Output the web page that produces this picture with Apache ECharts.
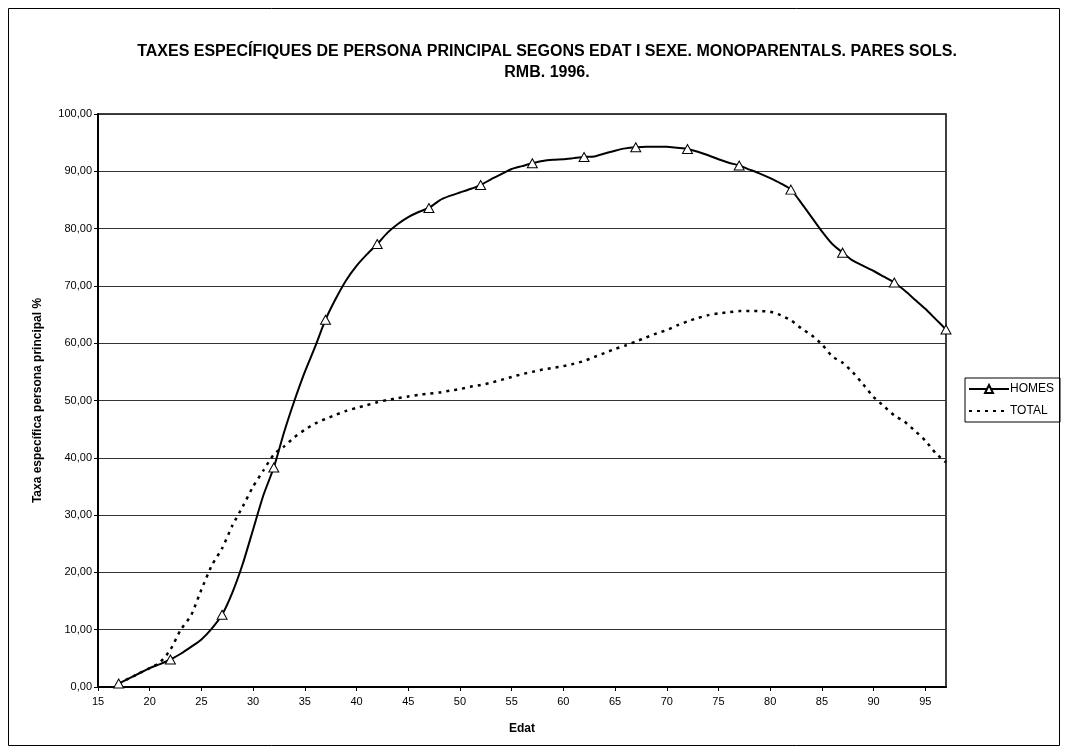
<!DOCTYPE html>
<html>
<head>
<meta charset="utf-8">
<script src="https://cdn.jsdelivr.net/npm/echarts@6/dist/echarts.min.js"></script>
<style>
html,body{margin:0;padding:0;background:#fff;}
#chart{width:1068px;height:755px;}
</style>
</head>
<body>
<div id="chart"></div>
<script>
const ages = [17,18,19,20,21,22,23,24,25,26,27,28,29,30,31,32,33,34,35,36,37,38,39,40,41,42,43,44,45,46,47,48,49,50,51,52,53,54,55,56,57,58,59,60,61,62,63,64,65,66,67,68,69,70,71,72,73,74,75,76,77,78,79,80,81,82,83,84,85,86,87,88,89,90,91,92,93,94,95,96,97];
const homes = [0.6,1.5,2.4,3.3,4.0,4.8,5.8,7.0,8.3,10.2,12.6,16.5,21.5,27.5,33.5,38.3,44.5,50.0,55.0,59.4,64.1,67.8,71.0,73.5,75.5,77.3,79.3,80.8,82.0,82.9,83.6,84.9,85.7,86.3,86.9,87.6,88.6,89.5,90.4,90.9,91.4,91.8,92.0,92.1,92.3,92.5,92.6,93.1,93.6,94.0,94.2,94.3,94.3,94.3,94.1,93.9,93.4,92.8,92.1,91.5,91.0,90.3,89.6,88.8,87.9,86.8,84.5,82.0,79.5,77.3,75.8,74.4,73.5,72.6,71.6,70.6,69.2,67.6,66.0,64.2,62.4];
const total = [0.6,1.5,2.4,3.3,4.3,6.5,10.0,12.5,17.0,21.2,24.2,28.2,31.5,35.0,37.8,40.6,42.0,43.6,44.9,46.0,46.8,47.5,48.2,48.7,49.2,49.7,50.1,50.4,50.7,51.0,51.2,51.4,51.7,52.0,52.4,52.7,53.1,53.6,54.1,54.6,55.0,55.4,55.7,56.0,56.4,56.9,57.6,58.3,59.0,59.6,60.3,61.0,61.7,62.3,63.1,63.8,64.4,64.9,65.2,65.4,65.6,65.6,65.6,65.5,64.9,64.0,62.6,61.4,59.8,57.7,56.6,54.9,52.8,50.6,49.0,47.4,46.3,44.7,43.0,40.8,39.2];
const markerAges = [17,22,27,32,37,42,47,52,57,62,67,72,77,82,87,92,97];
const seriesNames = ['HOMES','TOTAL'];
const titleText = 'TAXES ESPECÍFIQUES DE PERSONA PRINCIPAL SEGONS EDAT I SEXE. MONOPARENTALS. PARES SOLS.\nRMB. 1996.';
const xName = 'Edat';
const yName = 'Taxa específica persona principal %';

const chart = echarts.init(document.getElementById('chart'), null, {renderer:'canvas'});
const font = '"Liberation Sans", Arial, sans-serif';
const option = {
  backgroundColor:'#fff',
  animation:false,
  title:{
    text:titleText, left:542, top:36, textAlign:'center',
    textStyle:{fontFamily:font,fontSize:16,fontWeight:'bold',color:'#000',lineHeight:21}
  },
  graphic:[{type:'rect',shape:{x:8.5,y:8.5,width:1051,height:737},style:{fill:'none',stroke:'#000',lineWidth:1},z:-1}],
  legend:{
    orient:'vertical', left:965, top:378, itemWidth:40, itemHeight:10, itemGap:10,
    padding:[5,6,5,3], borderColor:'#000', borderWidth:1,
    textStyle:{fontFamily:font,fontSize:12,color:'#000',padding:[0,0,0,-4]},
    data:[
      {name:seriesNames[0]},
      {name:seriesNames[1], itemStyle:{color:'rgba(0,0,0,0)',borderColor:'rgba(0,0,0,0)',borderWidth:0}}
    ]
  },
  grid:{left:98,right:122,top:114,bottom:68,show:true,borderColor:'#000',borderWidth:1.5,containLabel:false},
  xAxis:{
    type:'value', min:15, max:97, interval:5,
    name:xName, nameLocation:'middle', nameGap:36,
    nameTextStyle:{fontFamily:font,fontSize:12,fontWeight:'bold',color:'#000'},
    axisLine:{show:true,onZero:false,lineStyle:{color:'#000',width:2}},
    axisTick:{show:true,inside:false,length:4,lineStyle:{color:'#000'}},
    axisLabel:{fontFamily:font,fontSize:11,color:'#000',margin:9,showMaxLabel:false},
    splitLine:{show:false}
  },
  yAxis:{
    type:'value', min:0, max:100, interval:10,
    name:yName, nameLocation:'middle', nameGap:54, nameRotate:90,
    nameTextStyle:{fontFamily:font,fontSize:12,fontWeight:'bold',color:'#000'},
    axisLine:{show:true,lineStyle:{color:'#000',width:2}},
    axisTick:{show:true,length:4,lineStyle:{color:'#000'}},
    axisLabel:{fontFamily:font,fontSize:11,color:'#000',margin:6,
      formatter:v=>v.toFixed(2).replace('.',',')},
    splitLine:{show:true,lineStyle:{color:'#333',width:1}}
  },
  series:[
    {
      name:seriesNames[0], type:'line', smooth:0.2,
      data:ages.map((a,i)=>[a,homes[i]]),
      symbol:'triangle',
      symbolSize:(v)=> markerAges.indexOf(v[0])>=0 ? [10,9] : 0,
      itemStyle:{color:'#fff',borderColor:'#000',borderWidth:1},
      lineStyle:{color:'#000',width:2},
      z:3
    },
    {
      name:seriesNames[1], type:'line', smooth:0.2,
      data:ages.map((a,i)=>[a,total[i]]),
      symbol:'none',
      itemStyle:{color:'#000'},
      lineStyle:{color:'#000',width:2.5,type:[3,5]},
      z:2
    }
  ]
};
chart.setOption(option);
</script>
</body>
</html>
